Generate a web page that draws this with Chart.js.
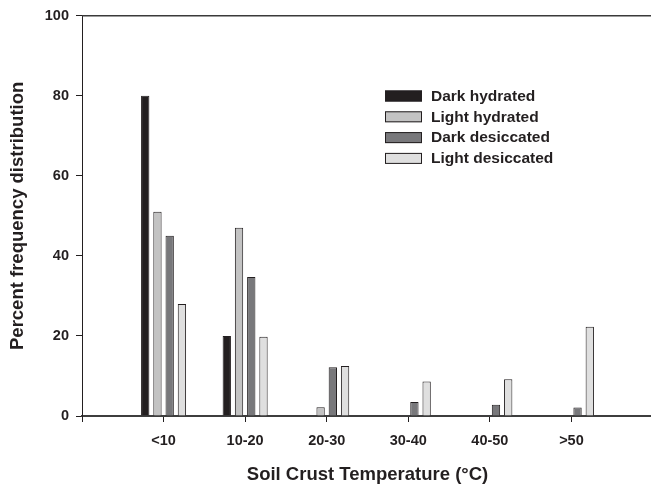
<!DOCTYPE html>
<html>
<head>
<meta charset="utf-8">
<script src="https://cdn.jsdelivr.net/npm/chart.js@4.4.1/dist/chart.umd.min.js"></script>
<style>
  html, body { margin: 0; padding: 0; background: #fff; overflow: hidden; }
  canvas { display: block; }
</style>
</head>
<body>
<canvas id="chart" width="663" height="487"></canvas>
<script>
const categories = ['<10', '10-20', '20-30', '30-40', '40-50', '>50'];
const darkHydrated = [80, 20, 0, 0, 0, 0];
const lightHydrated = [51, 47, 2.2, 0, 0, 0];
const darkDesiccated = [45, 34.7, 12.2, 3.5, 2.8, 2.1];
const lightDesiccated = [28, 19.8, 12.5, 8.6, 9.2, 22.3];
const yTicks = [0, 20, 40, 60, 80, 100];

const FONT = "'Liberation Sans', Arial, sans-serif";
const INK = '#231f20';

// blank slot on each side so the axis runs one category past the bars
const pad = arr => [null, ...arr, null];

const series = [
    { label: 'Dark hydrated', data: darkHydrated, color: '#231f20' },
    { label: 'Light hydrated', data: lightHydrated, color: '#c3c3c3' },
    { label: 'Dark desiccated', data: darkDesiccated, color: '#78787b' },
    { label: 'Light desiccated', data: lightDesiccated, color: '#dfdfdf' }
];

// legend drawn inside the plot, like the original
const insideLegend = {
    id: 'insideLegend',
    afterDraw(chart) {
        const ctx = chart.ctx;
        ctx.save();
        ctx.font = `bold 15.5px ${FONT}`;
        ctx.textBaseline = 'middle';
        chart.data.datasets.forEach((ds, i) => {
            const y = 96 + i * 20.8;
            ctx.fillStyle = ds.backgroundColor;
            ctx.fillRect(385, y - 5.5, 37, 11);
            ctx.strokeStyle = INK;
            ctx.lineWidth = 1;
            ctx.strokeRect(385.5, y - 5, 36, 10);
            ctx.fillStyle = INK;
            ctx.fillText(ds.label, 431, y + 0.5);
        });
        ctx.restore();
    }
};

// top frame line
const topFrame = {
    id: 'topFrame',
    afterDraw(chart) {
        const { ctx, chartArea } = chart;
        ctx.save();
        ctx.strokeStyle = '#3a3a3a';
        ctx.lineWidth = 1.5;
        ctx.beginPath();
        ctx.moveTo(chartArea.left, chartArea.top);
        ctx.lineTo(chartArea.right, chartArea.top);
        ctx.stroke();
        ctx.restore();
    }
};

new Chart(document.getElementById('chart'), {
    type: 'bar',
    data: {
        labels: pad(categories).map(c => c || ''),
        datasets: series.map(s => ({
            label: s.label,
            data: pad(s.data),
            backgroundColor: s.color,
            borderColor: INK,
            borderWidth: 1,
            categoryPercentage: 0.6,
            barPercentage: 0.68
        }))
    },
    options: {
        responsive: false,
        animation: false,
        layout: { padding: { top: 15, right: 0, left: 0, bottom: 0 } },
        plugins: {
            legend: { display: false },
            tooltip: { enabled: false }
        },
        scales: {
            x: {
                offset: false,
                grid: {
                    display: true,
                    drawOnChartArea: false,
                    tickLength: 6,
                    color: INK,
                    offset: false
                },
                border: { display: true, color: '#3e3e3e', width: 2 },
                ticks: {
                    autoSkip: false,
                    maxRotation: 0,
                    padding: 10,
                    color: INK,
                    font: { family: FONT, size: 14.5, weight: 'bold' }
                },
                title: {
                    display: true,
                    text: 'Soil Crust Temperature (°C)',
                    color: INK,
                    padding: { top: 0, bottom: 1 },
                    font: { family: FONT, size: 18.5, weight: 'bold' }
                },
                afterFit: scale => { scale.height = 71; }
            },
            y: {
                min: 0,
                max: 100,
                afterBuildTicks: scale => { scale.ticks = yTicks.map(v => ({ value: v })); },
                grid: {
                    display: true,
                    drawOnChartArea: false,
                    tickLength: 6,
                    color: INK
                },
                border: { display: true, color: INK, width: 1 },
                ticks: {
                    padding: 7,
                    color: INK,
                    font: { family: FONT, size: 14.5, weight: 'bold' }
                },
                title: {
                    display: true,
                    text: 'Percent frequency distribution',
                    color: INK,
                    padding: { top: 7, bottom: 0 },
                    font: { family: FONT, size: 18.5, weight: 'bold' }
                },
                afterFit: scale => { scale.width = 82; }
            }
        }
    },
    plugins: [insideLegend, topFrame]
});
</script>
</body>
</html>
